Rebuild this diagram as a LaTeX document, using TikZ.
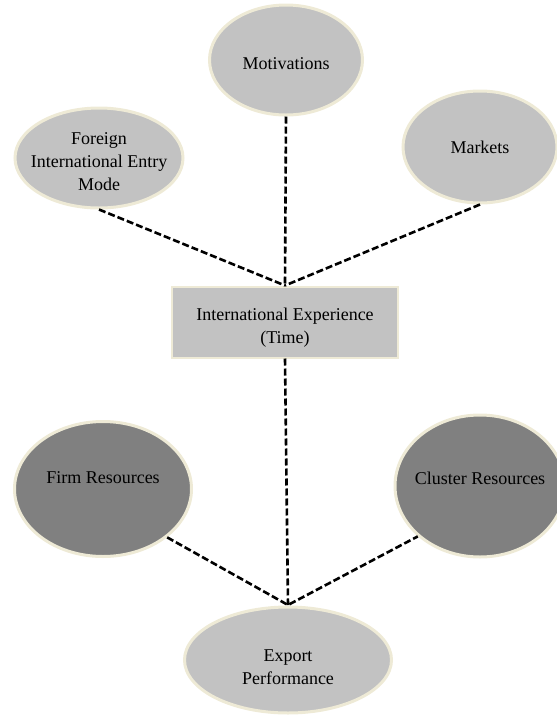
\documentclass[tikz,border=0pt]{standalone}
\usepackage{fontspec}
\setmainfont{Liberation Serif}
\usetikzlibrary{shapes.geometric}

\definecolor{lightgrey}{RGB}{194,194,194}
\definecolor{darkgrey}{RGB}{128,128,128}
\definecolor{cream}{RGB}{238,234,214}
% invisible strut: lowers the text of a node by #1 pt
\newcommand{\textdrop}[1]{\rule{0pt}{\dimexpr 12.5pt + #1pt * 2\relax}}

\begin{document}
\begin{tikzpicture}[x=1pt, y=-1pt,
    every node/.style={font=\fontsize{18}{23}\selectfont, align=center},
    oval/.style={ellipse, draw=cream, line width=3pt, inner sep=-30pt},
    light/.style={oval, fill=lightgrey},
    dark/.style={oval, fill=darkgrey},
    link/.style={line width=2.6pt, dash pattern=on 7pt off 3pt}]
    \useasboundingbox (0,0) rectangle (557,716);

      \node [light, minimum width=153, minimum height=110] (motiv) at (286,60) {\textdrop{3}Motivations};
      \node [light, minimum width=168, minimum height=100] (entry) at (99,158) {\textdrop{3}Foreign\\International Entry\\Mode};
      \node [light, minimum width=154, minimum height=112] (markets) at (480,147) {Markets};
      \node [rectangle, fill=lightgrey, draw=cream, line width=2pt,
             minimum width=226, minimum height=71] (exper) at (285,322) {\textdrop{6}International Experience\\(Time)};
      \node [dark, minimum width=177, minimum height=135] (firm) at (103,489) {Firm Resources\\~};
      \node [dark, minimum width=170, minimum height=142] (cluster) at (480,486) {\textdrop{4}Cluster Resources\\~};
      \node [light, minimum width=207, minimum height=106] (export) at (288,660) {\textdrop{7}Export\\Performance};
      \coordinate (meet) at (288,605);

      \draw [link] (entry.south) -- (exper.north);
      \draw [link] (motiv.south) -- (exper.north);
      \draw [link] (markets.south) -- (exper.north);
      \draw [link] (exper.south) -- (meet);
      \draw [link] (firm.-37) -- (meet) -- (cluster.-141);
\end{tikzpicture}
\end{document}
